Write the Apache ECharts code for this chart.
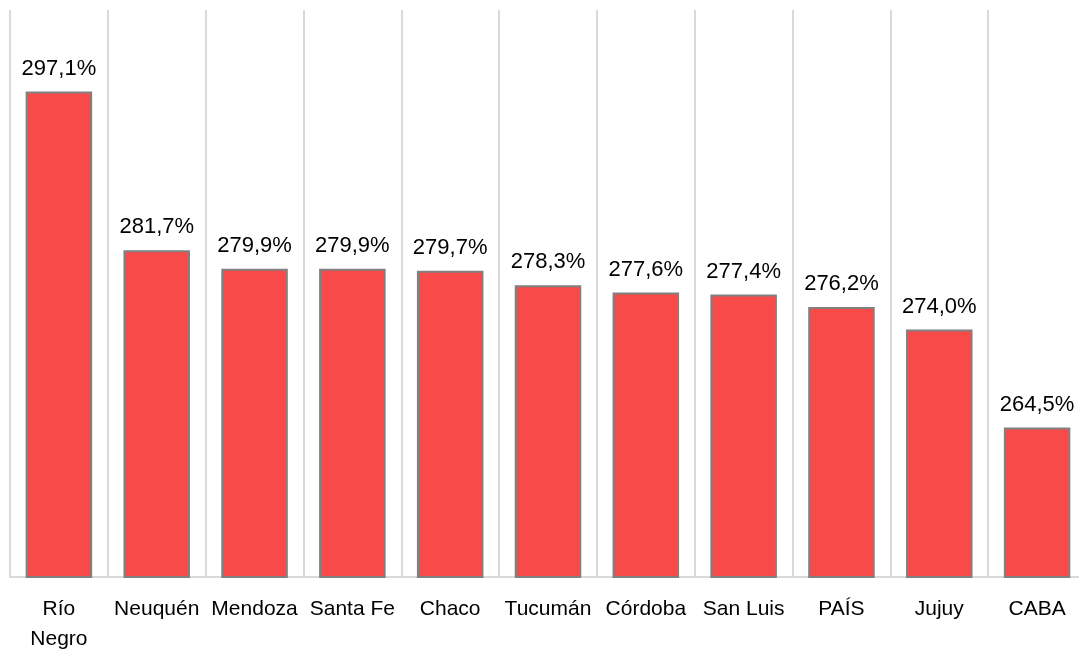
<!DOCTYPE html>
<html>
<head>
<meta charset="utf-8">
<script src="https://cdn.jsdelivr.net/npm/echarts@6/dist/echarts.min.js"></script>
<style>
  html, body { margin: 0; padding: 0; background: #fff; overflow: hidden; }
  #main { width: 1079px; height: 650px; }
</style>
</head>
<body>
<div id="main"></div>
<script>
var provincias = ['Río\nNegro', 'Neuquén', 'Mendoza', 'Santa Fe', 'Chaco', 'Tucumán', 'Córdoba', 'San Luis', 'PAÍS', 'Jujuy', 'CABA'];
var variacion = [297.1, 281.7, 279.9, 279.9, 279.7, 278.3, 277.6, 277.4, 276.2, 274.0, 264.5];

var chart = echarts.init(document.getElementById('main'));

var option = {
    animation: false,
    textStyle: { fontFamily: 'Liberation Sans, Arial, sans-serif' },
    grid: { left: 10, right: -7, top: 10, bottom: 73, containLabel: false, outerBoundsMode: 'none' },
    xAxis: {
        type: 'category',
        data: provincias,
        axisLine: { lineStyle: { color: '#d9d9d9', width: 2 } },
        axisTick: { show: false },
        splitLine: { show: true, lineStyle: { color: '#d9d9d9', width: 2 } },
        axisLabel: {
            interval: 0,
            color: '#000',
            fontSize: 21,
            margin: 17,
            lineHeight: 30
        }
    },
    yAxis: {
        type: 'value',
        min: 250,
        max: 305,
        show: false,
        splitLine: { show: false }
    },
    series: [{
        type: 'bar',
        data: variacion,
        barWidth: '68%',
        itemStyle: { color: '#f94a4a', borderColor: '#808080', borderWidth: 2 },
        label: {
            show: true,
            position: 'top',
            distance: 12,
            color: '#000',
            fontSize: 22,
            formatter: function (p) {
                return p.value.toFixed(1).replace('.', ',') + '%';
            }
        }
    }]
};

chart.setOption(option);
</script>
</body>
</html>
